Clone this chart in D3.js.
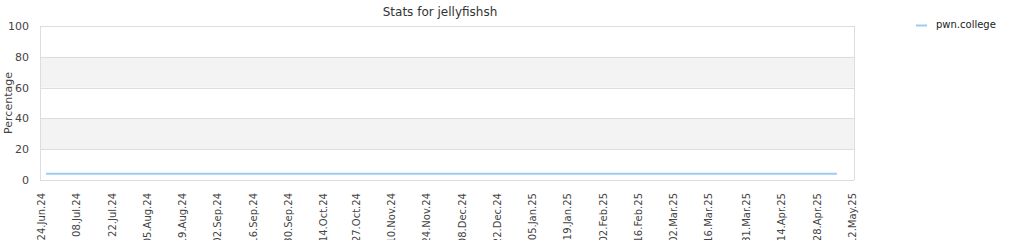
<!DOCTYPE html>
<html><head><meta charset="utf-8">
<script src="https://cdn.jsdelivr.net/npm/d3@7"></script>
<style>body{margin:0;background:#fff;} svg{display:block;font-family:"DejaVu Sans",Verdana,sans-serif;}</style>
</head><body>
<svg id="c" width="1024" height="240"></svg>
<script>
const title = "Stats for jellyfishsh";
const seriesName = "pwn.college";
const pointDates = ["26.Jun.24", "29.Jul.24", "06.May.25"];
const pointValues = [4, 4, 4];
const tickLabels = ["24.Jun.24","08.Jul.24","22.Jul.24","05.Aug.24","19.Aug.24","02.Sep.24","16.Sep.24","30.Sep.24","14.Oct.24","27.Oct.24","10.Nov.24","24.Nov.24","08.Dec.24","22.Dec.24","05.Jan.25","19.Jan.25","02.Feb.25","16.Feb.25","02.Mar.25","16.Mar.25","31.Mar.25","14.Apr.25","28.Apr.25","12.May.25"];
const yTicks = [0, 20, 40, 60, 80, 100];

const parse = d3.timeParse("%d.%b.%y");
const svg = d3.select("#c");
const L = 40, R = 854, T = 26, B = 180;
const x = d3.scaleTime().domain([parse(tickLabels[0]), parse(tickLabels[tickLabels.length-1])]).range([41, 852]);
const y = d3.scaleLinear().domain([0, 100]).range([B, T]);

// bands
for (let i = 0; i < yTicks.length - 1; i++) {
  if (i % 2 === 1) {
    svg.append("rect").attr("x", L).attr("y", y(yTicks[i+1])).attr("width", R - L)
      .attr("height", y(yTicks[i]) - y(yTicks[i+1])).attr("fill", "#f3f3f3");
  }
}
// grid
svg.append("g").selectAll("line").data(yTicks).join("line")
  .attr("x1", L).attr("x2", R).attr("y1", d => Math.round(y(d)) + 0.5).attr("y2", d => Math.round(y(d)) + 0.5)
  .attr("stroke", "#dddddd");
svg.append("line").attr("x1", L + 0.5).attr("x2", L + 0.5).attr("y1", T).attr("y2", B).attr("stroke", "#dddddd");
svg.append("line").attr("x1", R + 0.5).attr("x2", R + 0.5).attr("y1", T).attr("y2", B).attr("stroke", "#dddddd");

// y labels
svg.append("g").selectAll("text").data(yTicks).join("text")
  .attr("x", 29).attr("y", d => y(d) + 4).attr("text-anchor", "end")
  .attr("font-size", 11).attr("fill", "#444").text(d => d);

svg.append("text").attr("transform", "translate(12,103) rotate(-90)").attr("text-anchor", "middle")
  .attr("font-size", 11).attr("fill", "#444").text("Percentage");

// x labels
const xAxis = d3.axisBottom(x).tickValues(tickLabels.map(parse)).tickFormat((d, i) => tickLabels[i]).tickSize(0);
const gx = svg.append("g").attr("transform", `translate(0,${B})`).call(xAxis);
gx.select(".domain").remove();
gx.selectAll("text").attr("transform", "rotate(-90)").attr("text-anchor", "end")
  .attr("x", -13).attr("y", 0).attr("dy", "0.35em").attr("font-size", 10)
  .attr("fill", "#444").attr("font-family", "DejaVu Sans, sans-serif");

// line
const data = pointDates.map((d, i) => ({date: parse(d), value: pointValues[i]}));
svg.append("path").datum(data).attr("fill", "none").attr("stroke", "#9ecbf4").attr("stroke-width", 2)
  .attr("d", d3.line().x(d => x(d.date)).y(d => y(d.value)));

// title
svg.append("text").attr("x", 440).attr("y", 16).attr("text-anchor", "middle")
  .attr("font-size", 12).attr("fill", "#333").text(title);

// legend
svg.append("line").attr("x1", 916).attr("x2", 927).attr("y1", 25.5).attr("y2", 25.5).attr("stroke", "#9ecbf4").attr("stroke-width", 2);
svg.append("text").attr("x", 936).attr("y", 28).attr("font-size", 10).attr("fill", "#222").text(seriesName);
</script>
</body></html>
